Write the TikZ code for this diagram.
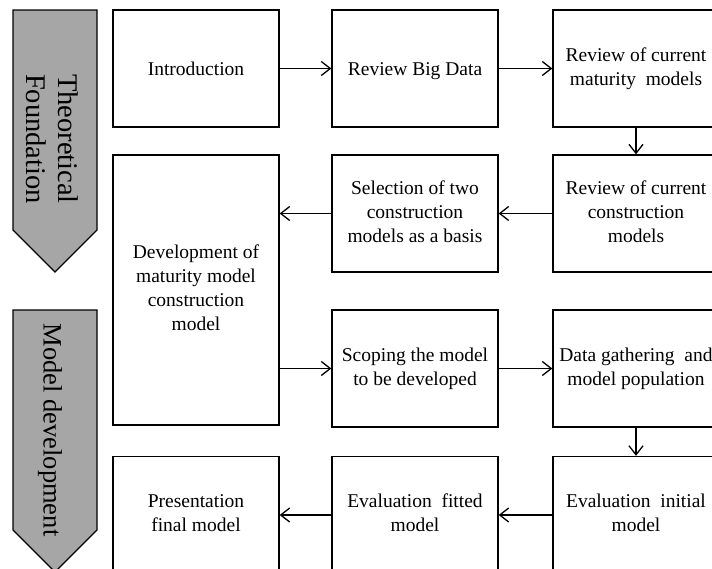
\documentclass[tikz,border=0pt]{standalone}
\usepackage{fontspec}
\setmainfont{Liberation Serif}
\usetikzlibrary{arrows.meta}
\tikzset{
  box/.style={draw, line width=1.3pt, fill=white, minimum width=166pt,
    minimum height=117pt, align=center, inner sep=2pt,
    font=\fontsize{19.5}{24}\selectfont,
    execute at begin node=\rule{0pt}{18pt},
    execute at end node=\rule[-4pt]{0pt}{4pt}},
  flow/.style={line width=1.3pt, -{Straight Barb[length=9pt,width=14pt,line width=1.3pt]}},
  phase/.style={draw, line width=1.3pt, fill=phasegray},
  phasetext/.style={rotate=-90, align=center}
}
\definecolor{phasegray}{HTML}{A6A6A6}
\begin{document}
\begin{tikzpicture}[x=1pt, y=-1pt]
  \useasboundingbox (0,0) rectangle (712,568);
  \begin{scope}
    \clip (0,0) rectangle (712,568);
    % phase banners on the left
    \draw[phase] (13,10) -- (97,10) -- (97,230) -- (55,272) -- (13,230) -- cycle;
    \node[phasetext, font=\fontsize{28.5}{32}\selectfont] (ph1) at (52,139) {Theoretical\\Foundation};
    \draw[phase] (13,310) -- (97,310) -- (97,530) -- (55,572) -- (13,530) -- cycle;
    \node[phasetext, font=\fontsize{26.5}{30}\selectfont] (ph2) at (50,430) {Model development};

    % row 1
    \node[box] (intro) at (196,68.5) {Introduction};
    \node[box] (rbd) at (415,68.5) {Review Big Data};
    \node[box] (rmm) at (636,68.5) {Review of current\\maturity\ \ models};
    % row 2
    \node[box] (rcm) at (636,213.5) {Review of current\\construction\\models};
    \node[box] (sel) at (415,213.5) {Selection of two\\construction\\models as a basis};
    \node[box, minimum height=270pt] (dev) at (196,290) {Development of\\maturity model\\construction\\model};
    % row 3
    \node[box] (scope) at (415,368.5) {Scoping the model\\to be developed};
    \node[box] (data) at (636,368.5) {Data gathering\ \ and\\model population};
    % row 4
    \node[box] (evi) at (636,515) {Evaluation\ \ initial\\model};
    \node[box] (evf) at (415,515) {Evaluation\ \ fitted\\model};
    \node[box] (pres) at (196,515) {Presentation\\final model};

    % connectors
    \draw[flow] (intro) -- (rbd);
    \draw[flow] (rbd) -- (rmm);
    \draw[flow] (rmm) -- (rcm);
    \draw[flow] (rcm) -- (sel);
    \draw[flow] (sel.west) -- (sel.west -| dev.east);
    \draw[flow] (scope.west -| dev.east) -- (scope.west);
    \draw[flow] (scope) -- (data);
    \draw[flow] (data) -- (evi);
    \draw[flow] (evi) -- (evf);
    \draw[flow] (evf) -- (pres);
  \end{scope}
\end{tikzpicture}
\end{document}
